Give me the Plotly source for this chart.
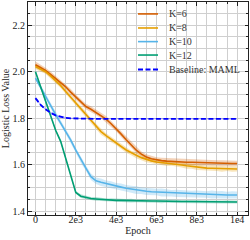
import plotly.graph_objects as go

epochs = list(range(0, 10001, 250))

k6_mean = [2.030, 2.018, 2.005, 1.988, 1.970, 1.953, 1.935, 1.912, 1.890, 1.870,
           1.850, 1.838, 1.825, 1.812, 1.796, 1.776, 1.755, 1.731, 1.707, 1.685,
           1.662, 1.645, 1.633, 1.625, 1.620, 1.617, 1.615, 1.613, 1.612, 1.611,
           1.610, 1.610, 1.609, 1.608, 1.608, 1.607, 1.607, 1.606, 1.606, 1.605, 1.605]
k8_mean = [2.022, 2.012, 2.000, 1.982, 1.962, 1.940, 1.915, 1.890, 1.865, 1.842,
           1.818, 1.790, 1.765, 1.742, 1.725, 1.708, 1.693, 1.678, 1.663, 1.650,
           1.640, 1.630, 1.622, 1.616, 1.611, 1.609, 1.607, 1.605, 1.602, 1.598,
           1.595, 1.592, 1.589, 1.587, 1.585, 1.584, 1.583, 1.582, 1.582, 1.581, 1.581]
k10_mean = [1.972, 1.935, 1.895, 1.855, 1.815, 1.780, 1.745, 1.705, 1.662, 1.620,
            1.585, 1.548, 1.530, 1.524, 1.518, 1.513, 1.508, 1.503, 1.498, 1.494,
            1.490, 1.487, 1.485, 1.483, 1.482, 1.480, 1.479, 1.477, 1.476, 1.475,
            1.474, 1.473, 1.473, 1.472, 1.471, 1.471, 1.470, 1.470, 1.469, 1.469, 1.469]
k12_mean = [2.000, 1.935, 1.870, 1.808, 1.748, 1.700, 1.630, 1.555, 1.480, 1.464,
            1.458, 1.454, 1.452, 1.450, 1.448, 1.447, 1.446, 1.446, 1.445, 1.445,
            1.444, 1.444, 1.443, 1.443, 1.443, 1.442, 1.442, 1.442, 1.441, 1.441,
            1.441, 1.441, 1.440, 1.440, 1.440, 1.440, 1.440, 1.439, 1.439, 1.439, 1.439]
maml_mean = [1.886, 1.858, 1.838, 1.823, 1.812, 1.805, 1.801, 1.799, 1.798, 1.797,
             1.797, 1.797, 1.797, 1.797, 1.797, 1.797, 1.797, 1.797, 1.797, 1.797,
             1.797, 1.797, 1.797, 1.797, 1.797, 1.797, 1.797, 1.797, 1.797, 1.797,
             1.797, 1.797, 1.797, 1.797, 1.797, 1.797, 1.797, 1.797, 1.797, 1.797, 1.797]

k6_std = [0.014, 0.013, 0.012, 0.013, 0.012, 0.011, 0.012, 0.013, 0.012, 0.011,
          0.012, 0.013, 0.012, 0.012, 0.013, 0.012, 0.011, 0.012, 0.013, 0.012,
          0.012, 0.011, 0.012, 0.013, 0.012, 0.012, 0.013, 0.012, 0.012, 0.013,
          0.012, 0.012, 0.013, 0.012, 0.013, 0.012, 0.012, 0.013, 0.012, 0.013, 0.012]
k8_std = [0.010, 0.012, 0.009, 0.011, 0.013, 0.010, 0.012, 0.009, 0.011, 0.010,
          0.012, 0.009, 0.011, 0.013, 0.010, 0.012, 0.009, 0.011, 0.012, 0.010,
          0.013, 0.011, 0.012, 0.010, 0.012, 0.011, 0.013, 0.010, 0.012, 0.011,
          0.013, 0.010, 0.012, 0.011, 0.010, 0.012, 0.011, 0.013, 0.010, 0.012, 0.011]
k10_std = [0.008, 0.010, 0.012, 0.011, 0.013, 0.011, 0.013, 0.012, 0.011, 0.013,
           0.012, 0.014, 0.014, 0.016, 0.014, 0.015, 0.013, 0.016, 0.014, 0.015,
           0.017, 0.014, 0.016, 0.015, 0.014, 0.017, 0.015, 0.014, 0.016, 0.015,
           0.017, 0.014, 0.016, 0.015, 0.014, 0.017, 0.015, 0.016, 0.014, 0.016, 0.015]
k12_std = [0.006, 0.007, 0.006, 0.007, 0.006, 0.007, 0.006, 0.007, 0.006, 0.008,
           0.007, 0.006, 0.008, 0.007, 0.006, 0.008, 0.007, 0.006, 0.007, 0.008,
           0.006, 0.007, 0.008, 0.006, 0.007, 0.008, 0.006, 0.007, 0.008, 0.006,
           0.007, 0.006, 0.008, 0.007, 0.006, 0.008, 0.007, 0.006, 0.007, 0.008, 0.006]
maml_std = [0.004, 0.004, 0.003, 0.004, 0.003, 0.004, 0.003, 0.003, 0.004, 0.003,
            0.003, 0.004, 0.003, 0.003, 0.004, 0.003, 0.003, 0.004, 0.003, 0.003,
            0.004, 0.003, 0.003, 0.004, 0.003, 0.003, 0.004, 0.003, 0.003, 0.004,
            0.003, 0.003, 0.004, 0.003, 0.003, 0.004, 0.003, 0.003, 0.004, 0.003, 0.003]

names = ["K=6", "K=8", "K=10", "K=12", "Baseline: MAML"]
means = [k6_mean, k8_mean, k10_mean, k12_mean, maml_mean]
stds = [k6_std, k8_std, k10_std, k12_std, maml_std]
colors = [(213, 94, 0), (230, 159, 0), (86, 180, 233), (0, 158, 115), (0, 0, 255)]

x_tickvals = [0, 2000, 4000, 6000, 8000, 10000]
x_ticktext = ["0", "2e3", "4e3", "6e3", "8e3", "1e4"]
y_tickvals = [1.4, 1.6, 1.8, 2.0, 2.2]
y_ticktext = ["1.4", "1.6", "1.8", "2.0", "2.2"]

FONT = "Liberation Serif, serif"
fig = go.Figure()
for name, m, s, c in zip(names, means, stds, colors):
    upper = [a + b for a, b in zip(m, s)]
    lower = [a - b for a, b in zip(m, s)]
    fig.add_trace(go.Scatter(
        x=epochs + epochs[::-1], y=upper + lower[::-1], fill="toself",
        fillcolor="rgba(%d,%d,%d,0.28)" % c, line=dict(width=0),
        hoverinfo="skip", showlegend=False))
for name, m, s, c in zip(names, means, stds, colors):
    dash = "5px,2.5px" if name.startswith("Baseline") else "solid"
    fig.add_trace(go.Scatter(
        x=epochs, y=m, mode="lines", name=name, showlegend=False,
        line=dict(color="rgb(%d,%d,%d)" % c, width=1.6 if dash == "solid" else 1.8, dash=dash)))

# compact legend (entries 14 px apart, like the reference)
leg_x0, leg_x1, leg_tx = 0.50, 0.591, 0.632
leg_rows = [0.944, 0.878, 0.814, 0.751, 0.683]
for name, c, yy in zip(names, colors, leg_rows):
    dash = "5px,2.5px" if name.startswith("Baseline") else "solid"
    fig.add_shape(type="line", xref="paper", yref="paper", x0=leg_x0, x1=leg_x1, y0=yy, y1=yy,
                  line=dict(color="rgb(%d,%d,%d)" % c, width=1.6 if dash == "solid" else 1.8, dash=dash))
    fig.add_annotation(xref="paper", yref="paper", x=leg_tx, y=yy, text=name, showarrow=False,
                       xanchor="left", yanchor="middle",
                       font=dict(family=FONT, size=10, color="#333"))

grid = "#cfcfcf"
fig.update_layout(
    width=250, height=240,
    margin=dict(l=28, r=2, t=2, b=25),
    paper_bgcolor="white", plot_bgcolor="white",
    font=dict(family=FONT, size=10, color="#222"),
    xaxis=dict(range=[-370, 10540], tickmode="array", tickvals=x_tickvals, ticktext=x_ticktext,
               showgrid=True, gridcolor=grid, gridwidth=1, zeroline=False,
               showline=True, linecolor="#222", linewidth=1, mirror="allticks",
               ticks="inside", ticklen=3.5, tickcolor="#222", ticklabelstandoff=-5,
               minor=dict(tickmode="linear", tick0=0, dtick=500, showgrid=True, gridcolor=grid,
                          gridwidth=1, ticks="inside", ticklen=2, tickcolor="#222"),
               title=dict(text="Epoch", standoff=2, font=dict(size=10)), automargin=False),
    yaxis=dict(range=[1.383, 2.3], tickmode="array", tickvals=y_tickvals, ticktext=y_ticktext,
               showgrid=True, gridcolor=grid, gridwidth=1, zeroline=False,
               showline=True, linecolor="#222", linewidth=1, mirror="allticks",
               ticks="inside", ticklen=3.5, tickcolor="#222",
               minor=dict(tickmode="linear", tick0=0, dtick=0.05, showgrid=True, gridcolor=grid,
                          gridwidth=1, ticks="inside", ticklen=2, tickcolor="#222"),
               title=dict(text="Logistic Loss Value", standoff=4, font=dict(size=10)), automargin=False),
)
fig.write_html("out.html", config={"displayModeBar": False},
               post_script="document.body.style.margin='0';document.body.style.padding='0';")
